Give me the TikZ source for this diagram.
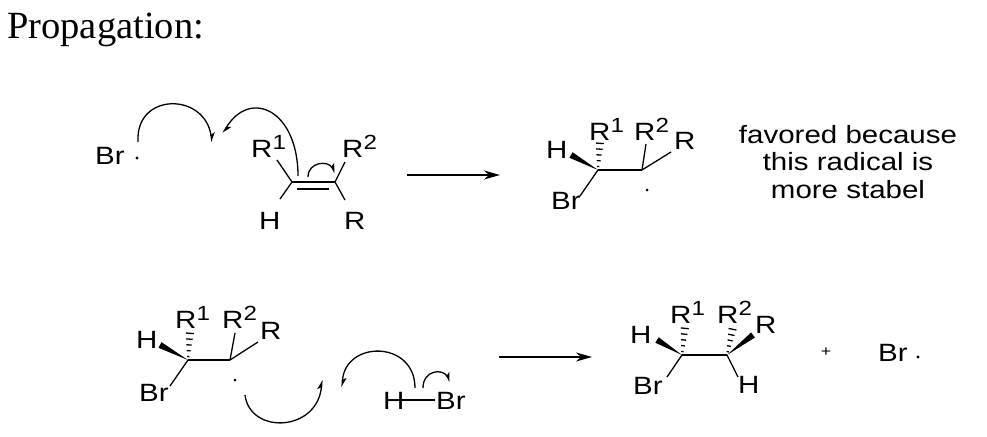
\documentclass[tikz,border=0pt]{standalone}
\usepackage{fontspec}
\setmainfont{Liberation Serif}
\newfontfamily\chemfont[FakeStretch=1.18]{Liberation Sans}
\usetikzlibrary{arrows.meta,calc}
\newcommand\rsup[1]{\raisebox{7.5pt}{\fontsize{20.5}{20.5}\selectfont #1}}
\newcommand\wedgebond[2]{\fill (#1) -- ($(#2)!3.2pt!90:(#1)$) -- ($(#2)!3.2pt!-90:(#1)$) -- cycle;}
\newcommand\hashbond[2]{\foreach \t/\w in {0.12/1.2,0.32/1.9,0.52/2.6,0.72/3.3,0.92/4.0}{%
  \draw[bond] ($(#1)!\t!(#2)!\w pt!90:(#2)$) -- ($(#1)!\t!(#2)!\w pt!-90:(#2)$);}}
\tikzset{
  lbl/.style={anchor=base west,inner sep=0pt,font=\chemfont\fontsize{25}{29}\selectfont},
  bond/.style={line width=1.3pt},
  rxn/.style={line width=1.4pt,-{Stealth[length=16pt,width=9pt,inset=5pt]}},
  curly/.style={line width=1.3pt,-{Stealth[harpoon,length=8pt,width=8pt,inset=2pt]}},
  rad/.style={circle,fill,inner sep=0pt,minimum size=3.4pt},
}
\begin{document}
\begin{tikzpicture}[x=1pt,y=-1pt]
\useasboundingbox (0,0) rectangle (987,436);
\node[anchor=base west,inner sep=0pt,font=\fontsize{38.5}{40}\selectfont] (title) at (7,38) {Propagation:};

% ---------- row 1: Br radical + alkene ----------
\node[lbl] (br1) at (95,164) {Br};
\node[rad] (dot1) at (137,158) {};
\coordinate (c1) at (292,182);
\coordinate (c2) at (335,182);
\node[lbl] (r1a) at (251,157) {R\rsup{1}};
\node[lbl] (r2a) at (342,157) {R\rsup{2}};
\node[lbl] (ha) at (259,229) {H};
\node[lbl] (ra) at (344,229) {R};
\coordinate (e1) at (277,160);
\coordinate (e2) at (345,162);
\coordinate (e3) at (280,199);
\coordinate (e4) at (345,200);
\coordinate (d1) at (297,189);
\coordinate (d2) at (329,189);
\draw[bond] (c1) -- (c2);
\draw[bond] (d1) -- (d2);
\draw[bond] (c1) -- (e1);
\draw[bond] (c1) -- (e3);
\draw[bond] (c2) -- (e2);
\draw[bond] (c2) -- (e4);
% curved arrows
\coordinate (a1s) at (138,142);
\coordinate (a1e) at (212,142);
\draw[curly] (a1s) .. controls (135,92) and (205,92) .. (a1e);
\coordinate (a2s) at (298,176);
\coordinate (a2e) at (223,133);
\draw[curly] (a2s) .. controls (298,110) and (250,88) .. (a2e);
\coordinate (a3s) at (308,177);
\coordinate (a3e) at (335,173);
\draw[curly] (a3s) .. controls (308,162) and (328,160) .. (a3e);

% reaction arrow 1
\coordinate (rx1s) at (407,175);
\coordinate (rx1e) at (500,175);
\draw[rxn] (rx1s) -- (rx1e);

% ---------- product 1 ----------
\coordinate (p1a) at (598,170);
\coordinate (p1b) at (642,170);
\node[lbl] (p1h) at (546,158) {H};
\node[lbl] (p1r1) at (589,140) {R\rsup{1}};
\node[lbl] (p1r2) at (634,140) {R\rsup{2}};
\node[lbl] (p1r) at (674,149) {R};
\node[lbl] (p1br) at (551,209) {Br};
\node[rad,minimum size=3pt] (p1dot) at (647,190) {};
\coordinate (p1hw) at (571,155);
\coordinate (p1hs) at (600,141);
\coordinate (p1e2) at (646,144);
\coordinate (p1e3) at (671,152);
\coordinate (p1e4) at (580,196);
\draw[bond] (p1a) -- (p1b);
\wedgebond{p1a}{p1hw}
\hashbond{p1a}{p1hs}
\draw[bond] (p1b) -- (p1e2);
\draw[bond] (p1b) -- (p1e3);
\draw[bond] (p1a) -- (p1e4);

\node[inner sep=0pt,align=center,font=\chemfont\fontsize{25}{27.5}\selectfont,anchor=base] (fav) at (848,198)
  {favored because\\this radical is\\more stabel};

% ---------- row 2: reactant radical + HBr ----------
\coordinate (q1a) at (188,360);
\coordinate (q1b) at (230,360);
\node[lbl] (q1h) at (136,348) {H};
\node[lbl] (q1r1) at (175,328) {R\rsup{1}};
\node[lbl] (q1r2) at (222,328) {R\rsup{2}};
\node[lbl] (q1r) at (260,339) {R};
\node[lbl] (q1br) at (139,401) {Br};
\node[rad,minimum size=3pt] (q1dot) at (235,380) {};
\coordinate (q1hw) at (160,345);
\coordinate (q1hs) at (190,331);
\coordinate (q1e2) at (235,333);
\coordinate (q1e3) at (258,342);
\coordinate (q1e4) at (170,386);
\draw[bond] (q1a) -- (q1b);
\wedgebond{q1a}{q1hw}
\hashbond{q1a}{q1hs}
\draw[bond] (q1b) -- (q1e2);
\draw[bond] (q1b) -- (q1e3);
\draw[bond] (q1a) -- (q1e4);

\node[lbl] (hbrh) at (383,409) {H};
\node[lbl] (hbrbr) at (436,409) {Br};
\coordinate (hb1) at (402,400);
\coordinate (hb2) at (435,400);
\draw[bond] (hb1) -- (hb2);

\coordinate (b1s) at (245,395);
\coordinate (b1e) at (322,380);
\draw[curly] (b1s) .. controls (250,435) and (318,432) .. (b1e);
\coordinate (b2s) at (415,388);
\coordinate (b2e) at (342,387);
\draw[curly] (b2s) .. controls (415,340) and (345,340) .. (b2e);
\coordinate (b3s) at (423,388);
\coordinate (b3e) at (450,382);
\draw[curly] (b3s) .. controls (423,370) and (443,368) .. (b3e);

% reaction arrow 2
\coordinate (rx2s) at (499,357);
\coordinate (rx2e) at (592,357);
\draw[rxn] (rx2s) -- (rx2e);

% ---------- product 2 ----------
\coordinate (p2a) at (682,355);
\coordinate (p2b) at (727,355);
\node[lbl] (p2h) at (630,343) {H};
\node[lbl] (p2r1) at (670,323) {R\rsup{1}};
\node[lbl] (p2r2) at (717,323) {R\rsup{2}};
\node[lbl] (p2r) at (755,333) {R};
\node[lbl] (p2hb) at (738,393) {H};
\node[lbl] (p2br) at (633,394) {Br};
\coordinate (p2hw) at (657,340);
\coordinate (p2hs1) at (685,326);
\coordinate (p2hs2) at (733,327);
\coordinate (p2rw) at (753,335);
\coordinate (p2e3) at (738,377);
\coordinate (p2e4) at (667,377);
\draw[bond] (p2a) -- (p2b);
\wedgebond{p2a}{p2hw}
\hashbond{p2a}{p2hs1}
\hashbond{p2b}{p2hs2}
\wedgebond{p2b}{p2rw}
\draw[bond] (p2b) -- (p2e3);
\draw[bond] (p2a) -- (p2e4);

\node[inner sep=0pt,font=\chemfont\fontsize{15}{15}\selectfont] (plus) at (826,352) {+};
\node[lbl] (br2) at (878,361) {Br};
\node[rad] (dot2) at (918,357) {};
\end{tikzpicture}
\end{document}
